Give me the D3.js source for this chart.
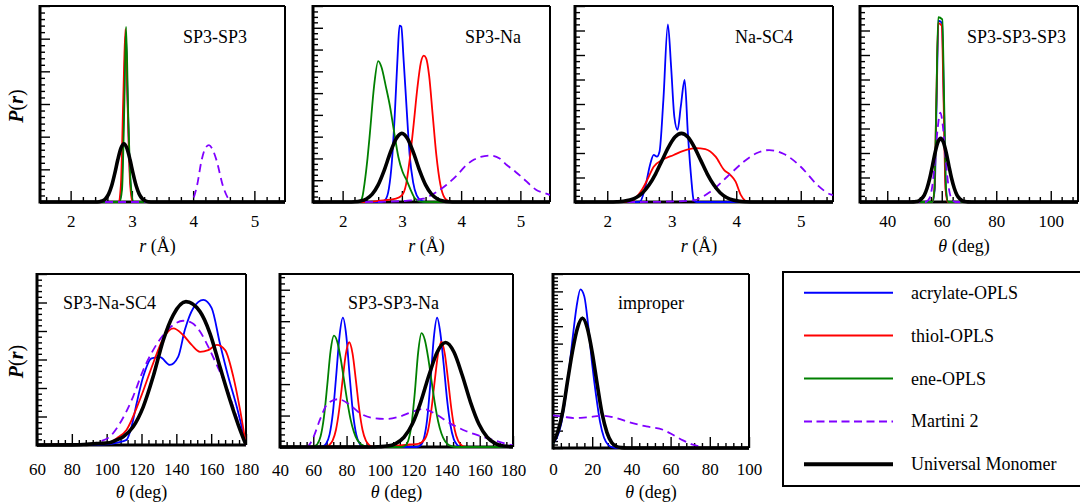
<!DOCTYPE html>
<html><head><meta charset="utf-8">
<script src="https://cdn.jsdelivr.net/npm/d3@7"></script>
<style>
body{margin:0;background:#fff}
svg{display:block}
svg text{font-family:"Liberation Serif","Times New Roman",Times,serif !important;fill:#000}
</style>
</head><body>
<svg id="chart" width="1080" height="504" font-family="Liberation Serif, Times New Roman, serif"></svg>
<script>
// ---------------- series / legend ----------------
const seriesKeys = ["acrylate","thiol","ene","martini","um"];
const seriesLabels = ["acrylate-OPLS","thiol-OPLS","ene-OPLS","Martini 2","Universal Monomer"];
const panelTitles = ["SP3-SP3","SP3-Na","Na-SC4","SP3-SP3-SP3","SP3-Na-SC4","SP3-SP3-Na","improper"];

// ---------------- tick labels ----------------
const rTicks = [2,3,4,5];
const angTicksA = [40,60,80,100];
const angTicksB = [60,80,100,120,140,160,180];
const angTicksC = [40,60,80,100,120,140,160,180];
const angTicksD = [0,20,40,60,80,100];

// ---------------- panel 1: SP3-SP3 (r, Å) ----------------
const sp3sp3_acrylate = [[1.5,0],[2.79,0],[2.83,0.4],[2.87,3.0],[2.90,5.2],[2.93,3.2],[2.97,0.8],[3.02,0],[5.5,0]];
const sp3sp3_thiol    = [[1.5,0],[2.78,0],[2.82,0.5],[2.86,3.2],[2.895,5.3],[2.93,3.0],[2.97,0.6],[3.01,0],[5.5,0]];
const sp3sp3_ene      = [[1.5,0],[2.80,0],[2.84,0.4],[2.875,2.8],[2.905,5.37],[2.94,2.7],[2.98,0.6],[3.03,0],[5.5,0]];
const sp3sp3_martini  = [[1.5,0],[3.94,0],[4.0,0.1],[4.06,0.47],[4.14,1.29],[4.2,1.65],[4.26,1.74],[4.32,1.6],[4.38,1.29],[4.49,0.47],[4.56,0.15],[4.63,0],[5.5,0]];
const sp3sp3_um       = [[1.5,0],[2.4,0],[2.47,0.01],[2.52,0.035],[2.57,0.1],[2.62,0.241],[2.67,0.495],[2.72,0.866],[2.77,1.292],[2.82,1.643],[2.87,1.78],[2.92,1.643],[2.97,1.292],[3.02,0.866],[3.07,0.495],[3.12,0.241],[3.17,0.1],[3.22,0.035],[3.27,0.01],[3.35,0],[5.5,0]];

// ---------------- panel 2: SP3-Na ----------------
const sp3na_acrylate = [[1.5,0],[2.65,0],[2.72,0.1],[2.78,0.6],[2.83,1.8],[2.88,4.0],[2.93,6.8],[2.96,8.1],[2.99,8.05],[3.03,6.5],[3.08,4.3],[3.13,2.2],[3.19,0.9],[3.25,0.3],[3.33,0.05],[3.4,0],[5.5,0]];
const sp3na_thiol    = [[1.5,0],[2.4,0],[2.6,0.05],[2.9,0.15],[3.0,0.3],[3.07,0.8],[3.13,1.9],[3.2,3.6],[3.26,5.2],[3.32,6.4],[3.37,6.72],[3.41,6.6],[3.46,5.8],[3.52,4.0],[3.58,2.2],[3.65,0.8],[3.72,0.2],[3.8,0.03],[3.9,0],[5.5,0]];
const sp3na_ene      = [[1.5,0],[2.28,0],[2.33,0.2],[2.37,0.86],[2.42,2.0],[2.46,3.15],[2.53,5.3],[2.60,6.47],[2.655,6.2],[2.73,5.3],[2.80,4.38],[2.87,3.2],[2.94,2.08],[3.01,1.4],[3.08,1.0],[3.15,0.55],[3.22,0.17],[3.3,0.03],[3.4,0],[5.5,0]];
const sp3na_martini  = [[1.5,0],[2.3,0],[2.8,0.02],[3.1,0.06],[3.36,0.15],[3.55,0.4],[3.75,0.78],[3.92,1.2],[4.09,1.7],[4.22,1.95],[4.33,2.07],[4.5,2.13],[4.65,2.0],[4.77,1.7],[4.92,1.38],[5.05,1.08],[5.16,0.8],[5.27,0.55],[5.4,0.42],[5.5,0.32]];
const sp3na_um       = [[1.5,0],[2.1,0],[2.2,0.01],[2.3,0.045],[2.4,0.14],[2.5,0.36],[2.6,0.785],[2.7,1.44],[2.8,2.23],[2.9,2.89],[3.0,3.15],[3.1,2.89],[3.2,2.23],[3.3,1.44],[3.4,0.785],[3.5,0.36],[3.6,0.14],[3.7,0.045],[3.8,0.01],[3.9,0],[5.5,0]];

// ---------------- panel 3: Na-SC4 ----------------
const nasc4_acrylate = [[1.5,0],[2.45,0],[2.51,0.02],[2.59,0.63],[2.67,1.58],[2.72,1.92],[2.77,1.85],[2.81,2.05],[2.87,4.16],[2.94,7.25],[2.99,5.52],[3.04,3.48],[3.09,2.94],[3.14,3.89],[3.20,4.98],[3.25,2.80],[3.30,1.03],[3.34,0.08],[3.38,0],[5.5,0]];
const nasc4_thiol    = [[1.5,0],[2.3,0],[2.38,0.03],[2.46,0.22],[2.55,0.55],[2.62,0.9],[2.72,1.44],[2.85,1.71],[3.03,1.92],[3.18,2.09],[3.37,2.2],[3.52,2.16],[3.68,1.85],[3.81,1.31],[3.91,1.1],[3.99,0.83],[4.07,0.29],[4.14,0.05],[4.2,0],[5.5,0]];
const nasc4_martini  = [[1.5,0],[2.5,0],[3.0,0.02],[3.34,0.07],[3.6,0.42],[3.86,1.03],[4.12,1.65],[4.33,2.01],[4.51,2.12],[4.74,1.96],[5.0,1.44],[5.26,0.69],[5.46,0.31],[5.5,0.28]];
const nasc4_um       = [[1.5,0],[2.05,0],[2.15,0.01],[2.25,0.03],[2.35,0.08],[2.45,0.185],[2.55,0.38],[2.65,0.70],[2.75,1.15],[2.85,1.70],[2.95,2.24],[3.05,2.65],[3.15,2.8],[3.25,2.65],[3.35,2.24],[3.45,1.70],[3.55,1.15],[3.65,0.70],[3.75,0.38],[3.85,0.185],[3.95,0.08],[4.05,0.03],[4.15,0.01],[4.3,0],[5.5,0]];

// ---------------- panel 4: SP3-SP3-SP3 (θ) ----------------
const sss_acrylate = [[30,0],[56.6,0],[57.4,0.5],[58.1,4.0],[58.8,7.4],[60.1,7.3],[60.8,4.0],[61.5,0.5],[62.3,0],[110,0]];
const sss_thiol    = [[30,0],[56.5,0],[57.3,0.5],[58.0,4.0],[58.7,7.3],[60.0,7.2],[60.7,4.0],[61.4,0.5],[62.2,0],[110,0]];
const sss_ene      = [[30,0],[56.5,0],[57.3,0.5],[58.0,4.0],[58.7,7.54],[60.2,7.45],[60.9,4.0],[61.6,0.5],[62.4,0],[110,0]];
const sss_martini  = [[30,0],[54,0],[55.5,0.16],[56.5,0.63],[57.5,1.67],[58.5,3.0],[59.5,3.65],[60.5,3.0],[61.5,1.67],[62.5,0.63],[63.5,0.16],[65,0],[110,0]];
const sss_um       = [[30,0],[48.6,0],[49.6,0.005],[50.6,0.02],[51.6,0.05],[52.6,0.13],[53.6,0.28],[54.6,0.56],[55.6,0.97],[56.6,1.49],[57.6,2.03],[58.6,2.44],[59.6,2.6],[60.6,2.44],[61.6,2.03],[62.6,1.49],[63.6,0.97],[64.6,0.56],[65.6,0.28],[66.6,0.13],[67.6,0.05],[68.6,0.02],[69.6,0.005],[71,0],[110,0]];

// ---------------- panel 5: SP3-Na-SC4 ----------------
const snc_acrylate = [[60,0],[90,0.005],[101.8,0.03],[106,0.08],[111.4,0.18],[114.5,0.7],[117.2,1.46],[121,2.40],[125.8,3.04],[130.6,3.08],[136.3,2.81],[141.1,3.10],[144.9,4.04],[149.7,4.80],[155.5,5.09],[160.3,4.80],[165,3.57],[169.8,2.40],[174.7,1.34],[180,0]];
const snc_thiol    = [[60,0],[80,0.01],[95,0.04],[101.8,0.08],[106,0.25],[111.4,0.53],[119,1.58],[126.7,2.87],[132.5,3.74],[138.2,4.09],[143.9,3.86],[148.8,3.51],[153.6,3.27],[158.3,3.33],[163.2,3.51],[168,3.33],[172.7,2.40],[176.6,1.23],[180,0]];
const snc_martini  = [[60,0],[75,0.005],[87,0.02],[96,0.12],[101.8,0.29],[107.6,0.76],[115.2,1.70],[121,2.63],[126.7,3.33],[132.5,3.86],[138.2,4.21],[143.9,4.36],[148.8,4.29],[153.6,3.98],[158.3,3.45],[163.2,2.81],[169,2.0],[174.5,1.0],[180,0]];
const snc_um       = [[60,0],[80,0.005],[87,0.02],[95,0.05],[101.8,0.08],[105.5,0.17],[109.5,0.29],[115.2,0.64],[121,1.34],[126.7,2.40],[132.5,3.68],[138.2,4.56],[145.5,5.03],[153.6,4.68],[159.3,3.92],[165,2.75],[170.8,1.58],[175.6,0.70],[180,0]];

// ---------------- panel 6: SP3-SP3-Na ----------------
const ssn_acrylate = [[40,0],[64,0],[65.8,0.02],[67.8,0.11],[69.8,0.40],[71.8,1.10],[73.8,2.29],[75.8,3.55],[77.8,4.11],[79.8,3.55],[81.8,2.29],[83.8,1.10],[85.8,0.40],[87.8,0.11],[89.8,0.02],[92,0],[122,0],[124.4,0.05],[126.4,0.26],[128.4,0.87],[130.4,2.06],[132.4,3.46],[134.4,4.11],[136.4,3.6],[138.4,2.6],[140.4,1.5],[142.4,0.7],[144.4,0.25],[146.4,0.07],[148.5,0],[180,0]];
const ssn_thiol    = [[40,0],[66,0],[67.6,0.01],[69.6,0.06],[71.6,0.2],[73.6,0.54],[75.6,1.2],[77.6,2.12],[79.6,2.97],[81.6,3.33],[83.6,2.97],[85.6,2.12],[87.6,1.2],[89.6,0.54],[91.6,0.2],[93.6,0.06],[95.6,0.01],[100,0],[110,0.04],[118,0.08],[123,0.1],[127,0.25],[129,0.54],[131,1.2],[133,2.12],[135,2.97],[137,3.35],[139,2.97],[141,2.12],[143,1.2],[145,0.54],[147,0.2],[149,0.06],[151,0.01],[154,0],[180,0]];
const ssn_ene      = [[40,0],[58,0],[60.4,0.02],[62.4,0.09],[64.4,0.34],[66.4,0.95],[68.4,1.97],[70.4,3.06],[72.4,3.54],[74.4,3.35],[76.4,2.83],[78.4,2.15],[80.4,1.46],[82.4,0.88],[84.4,0.48],[86.4,0.23],[88.4,0.1],[90.4,0.04],[92.4,0.01],[95,0],[113,0],[115,0.03],[117,0.19],[119,0.7],[121,1.73],[123,3.0],[125,3.62],[127,3.41],[129,2.85],[131,2.12],[133,1.40],[135,0.82],[137,0.43],[139,0.2],[141,0.08],[143,0.03],[146,0],[180,0]];
const ssn_martini  = [[40,0],[56,0],[60,0.3],[64,0.87],[69,1.40],[75,1.52],[82,1.34],[88,1.08],[96,0.92],[104,0.89],[112,0.97],[120,1.13],[126,1.21],[134,1.03],[142,0.76],[152,0.5],[164,0.29],[176,0.1],[180,0.05]];
const ssn_um       = [[40,0],[95,0],[99.5,0.01],[104.5,0.03],[109.5,0.11],[114.5,0.31],[119.5,0.73],[124.5,1.42],[129.5,2.28],[134.5,3.02],[139.5,3.32],[144.5,3.02],[149.5,2.28],[154.5,1.42],[159.5,0.73],[164.5,0.31],[169.5,0.11],[174.5,0.03],[180,0.01]];

// ---------------- panel 7: improper ----------------
const imp_acrylate = [[0,0.29],[2,0.6],[4,1.3],[6,2.6],[8,4.3],[10,6.3],[12,8.1],[14,9.12],[16,8.7],[18,7.0],[20,4.8],[22,3.0],[24,1.5],[26,0.6],[28,0.2],[30,0.05],[33,0],[100,0]];
const imp_ene      = [[0,0.28],[2.5,0.9],[5,2.05],[7.5,3.85],[10,5.6],[12.5,6.95],[15,7.5],[17.5,6.95],[20,5.5],[22.5,3.7],[25,2.0],[27.5,0.9],[30,0.3],[32.5,0.08],[35,0.02],[37.5,0],[100,0]];
const imp_martini  = [[0,1.87],[5.1,1.8],[11.1,1.72],[17,1.76],[25.5,1.85],[32.3,1.72],[39.1,1.47],[47.6,1.24],[56.1,1.05],[61.2,0.76],[66.3,0.44],[71.4,0.19],[76.5,0.05],[78,0],[100,0]];
const imp_um       = [[0,0.3],[2.5,0.95],[5,2.1],[7.5,3.9],[10,5.6],[12.5,6.9],[15,7.46],[17.5,6.9],[20,5.5],[22.5,3.7],[25,2.0],[27.5,0.9],[30,0.3],[32.5,0.08],[35,0.02],[37.5,0],[100,0]];

// ---------------- styles & layout ----------------
const FONT = '"Liberation Serif","Times New Roman",Times,serif';
const styles = {
  acrylate:{color:"#0000ff", width:1.8, dash:null},
  thiol:   {color:"#ff0000", width:1.8, dash:null},
  ene:     {color:"#008000", width:1.8, dash:null},
  martini: {color:"#8000ff", width:1.8, dash:"8,5"},
  um:      {color:"#000000", width:3.6, dash:null}
};

const panels = [
  {title:panelTitles[0], box:[40,6,285,202],   xDomain:[1.5,5.5], xTicks:rTicks,    xMinor:0.2, yMax:6,   yMinor:0.2,  xTitle:"r",  labelX:183, labelY:42.5, yLabel:true,  tickY:226.5, titleY:252, titleDx:-5,
   data:{acrylate:sp3sp3_acrylate, thiol:sp3sp3_thiol, ene:sp3sp3_ene, martini:sp3sp3_martini, um:sp3sp3_um}},
  {title:panelTitles[1], box:[313,6,550,202],  xDomain:[1.5,5.5], xTicks:rTicks,    xMinor:0.2, yMax:9,   yMinor:0.25, xTitle:"r",  labelX:465, labelY:42.5, yLabel:false, tickY:226.5, titleY:252, titleDx:-5,
   data:{acrylate:sp3na_acrylate, thiol:sp3na_thiol, ene:sp3na_ene, martini:sp3na_martini, um:sp3na_um}},
  {title:panelTitles[2], box:[575,6,833,202],  xDomain:[1.5,5.5], xTicks:rTicks,    xMinor:0.2, yMax:8,   yMinor:0.25, xTitle:"r",  labelX:735, labelY:42.5, yLabel:false, tickY:226.5, titleY:252, titleDx:-5,
   data:{acrylate:nasc4_acrylate, thiol:nasc4_thiol, martini:nasc4_martini, um:nasc4_um}},
  {title:panelTitles[3], box:[860,6,1078,202], xDomain:[30,110],  xTicks:angTicksA, xMinor:4,   yMax:8,   yMinor:0.25, xTitle:"th", labelX:967, labelY:42.5, yLabel:false, tickY:226.5, titleY:252, titleDx:-5,
   data:{acrylate:sss_acrylate, thiol:sss_thiol, ene:sss_ene, martini:sss_martini, um:sss_um}},
  {title:panelTitles[4], box:[37,274,246,445], xDomain:[60,180],  xTicks:angTicksB, xMinor:4,   yMax:6,   yMinor:0.2,  xTitle:"th", labelX:63,  labelY:309,  yLabel:true,  tickY:474.5, titleY:498, titleDx:0,
   data:{acrylate:snc_acrylate, thiol:snc_thiol, martini:snc_martini, um:snc_um}},
  {title:panelTitles[5], box:[280,274,513,447],xDomain:[40,180],  xTicks:angTicksC, xMinor:4,   yMax:5.5, yMinor:0.2,  xTitle:"th", labelX:348, labelY:309,  yLabel:false, tickY:475.5, titleY:498, titleDx:0,
   data:{acrylate:ssn_acrylate, thiol:ssn_thiol, ene:ssn_ene, martini:ssn_martini, um:ssn_um}},
  {title:panelTitles[6], box:[553,274,749,448],xDomain:[0,100],   xTicks:angTicksD, xMinor:4,   yMax:10,  yMinor:0.2,  xTitle:"th", labelX:618, labelY:309,  yLabel:false, tickY:475,   titleY:498, titleDx:0,
   data:{acrylate:imp_acrylate, ene:imp_ene, martini:imp_martini, um:imp_um}}
];

const svg = d3.select("#chart");
svg.append("rect").attr("width",1080).attr("height",504).attr("fill","#fff");
const defs = svg.append("defs");

function stepVals(a, b, step){
  const k0 = Math.ceil(a/step - 1e-9), k1 = Math.floor(b/step + 1e-9);
  return d3.range(k0, k1+1).map(k => +(k*step).toFixed(6));
}

panels.forEach((p, i) => {
  const [l,t,r,b] = p.box;
  const x = d3.scaleLinear().domain(p.xDomain).range([l,r]);
  const y = d3.scaleLinear().domain([0,p.yMax]).range([b,t]);
  const g = svg.append("g");

  // minor / major x ticks (inward)
  const xMin = stepVals(p.xDomain[0], p.xDomain[1], p.xMinor).filter(v => !p.xTicks.some(m => Math.abs(m-v)<1e-6));
  const gxm = g.append("g").attr("transform",`translate(0,${b})`)
    .call(d3.axisBottom(x).tickValues(xMin).tickSize(-5).tickFormat(""));
  const gxM = g.append("g").attr("transform",`translate(0,${b})`)
    .call(d3.axisBottom(x).tickValues(p.xTicks).tickSize(-11).tickFormat(d3.format("d")));
  [gxm,gxM].forEach(s => { s.attr("font-family",FONT); s.select(".domain").remove(); s.selectAll("line").attr("stroke","#000").attr("stroke-width",1.4); });
  gxM.selectAll("text").attr("y", p.tickY - b).attr("dy", null)
     .attr("font-family",FONT).style("font-size","17px").attr("fill","#000");

  // y ticks (inward, no labels)
  const yMaj = stepVals(0, p.yMax, 1);
  const yMin = stepVals(0, p.yMax, p.yMinor).filter(v => !yMaj.some(m => Math.abs(m-v)<1e-6));
  const gym = g.append("g").attr("transform",`translate(${l},0)`)
    .call(d3.axisLeft(y).tickValues(yMin).tickSize(-5).tickFormat(""));
  const gyM = g.append("g").attr("transform",`translate(${l},0)`)
    .call(d3.axisLeft(y).tickValues(yMaj).tickSize(-10).tickFormat(""));
  [gym,gyM].forEach(s => { s.select(".domain").remove(); s.selectAll("line").attr("stroke","#000").attr("stroke-width",1.4); });

  // frame
  g.append("line").attr("x1",l).attr("x2",r).attr("y1",t).attr("y2",t).attr("stroke","#000").attr("stroke-width",2);
  g.append("line").attr("x1",r).attr("x2",r).attr("y1",t).attr("y2",b).attr("stroke","#000").attr("stroke-width",2);
  g.append("line").attr("x1",l).attr("x2",r).attr("y1",b).attr("y2",b).attr("stroke","#000").attr("stroke-width",3);
  g.append("line").attr("x1",l).attr("x2",l).attr("y1",t-1).attr("y2",b+1.5).attr("stroke","#000").attr("stroke-width",3);

  // curves
  defs.append("clipPath").attr("id","clip"+i).append("rect")
    .attr("x",l).attr("y",t).attr("width",r-l).attr("height",b-t+2);
  const line = d3.line().x(d => x(d[0])).y(d => y(d[1])).curve(d3.curveMonotoneX);
  const gc = g.append("g").attr("clip-path",`url(#clip${i})`);
  seriesKeys.forEach(k => {
    if (!p.data[k]) return;
    const s = styles[k];
    gc.append("path").datum(p.data[k]).attr("d", line)
      .attr("fill","none").attr("stroke", s.color).attr("stroke-width", s.width)
      .attr("stroke-linejoin","round")
      .attr("stroke-dasharray", s.dash);
  });

  // panel label
  g.append("text").attr("x", p.labelX).attr("y", p.labelY).attr("font-family",FONT).style("font-size","18px").text(p.title);

  // x title
  const tt = g.append("text").attr("x", (l+r)/2 + p.titleDx).attr("y", p.titleY)
    .attr("text-anchor","middle").attr("font-family",FONT).style("font-size","18px");
  if (p.xTitle === "r") {
    tt.append("tspan").style("font-style","italic").text("r");
    tt.append("tspan").text(" (Å)");
  } else {
    tt.append("tspan").style("font-style","italic").text("θ");
    tt.append("tspan").text(" (deg)");
  }

  // y title
  if (p.yLabel) {
    const cy = (t+b)/2 + 2;
    const yt = g.append("text").attr("transform",`translate(22.5,${cy}) rotate(-90)`)
      .attr("text-anchor","middle").attr("font-family",FONT).style("font-size","20px").style("font-weight","bold");
    yt.append("tspan").style("font-style","italic").text("P");
    yt.append("tspan").style("font-weight","normal").text("(");
    yt.append("tspan").style("font-style","italic").text("r");
    yt.append("tspan").style("font-weight","normal").text(")");
  }
});

// ---------------- legend ----------------
const lg = svg.append("g");
lg.append("rect").attr("x",783).attr("y",272).attr("width",300).attr("height",214)
  .attr("fill","none").attr("stroke","#000").attr("stroke-width",2);
const legY = d3.scalePoint().domain(seriesKeys).range([292.7,464.3]);
seriesKeys.forEach((k, j) => {
  const s = styles[k];
  lg.append("line").attr("x1",804).attr("x2",893).attr("y1",legY(k)).attr("y2",legY(k))
    .attr("stroke", s.color).attr("stroke-width", k==="um" ? 4 : 2)
    .attr("stroke-dasharray", k==="martini" ? "8,4.5" : null);
  lg.append("text").attr("x",911).attr("y",legY(k)+6).attr("font-family",FONT).style("font-size","18px").text(seriesLabels[j]);
});
</script>
</body></html>
